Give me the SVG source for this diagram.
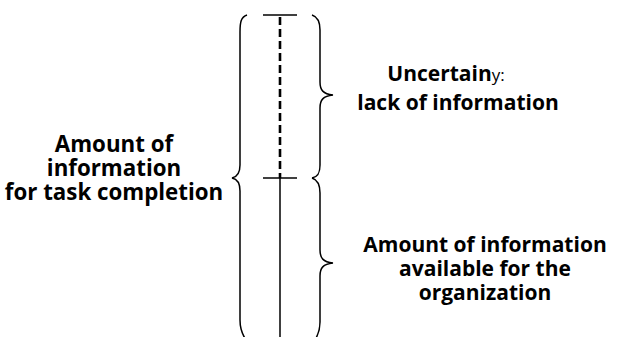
<svg xmlns="http://www.w3.org/2000/svg" width="620" height="337" viewBox="0 0 620 337">
<style>
.t{font-family:"Open Sans","Liberation Sans",sans-serif;font-weight:bold;font-size:21px;fill:#000;text-anchor:middle}
.l{font-size:22.3px}
.b{fill:none;stroke:#000;stroke-width:1.5}
</style>
<rect width="620" height="337" fill="#fff"/>
<g id="connectors">
<line x1="280" y1="17" x2="280" y2="178" stroke="#000" stroke-dasharray="8,4" stroke-width="2.6"/>
<line class="b" x1="280" y1="178" x2="280" y2="337"/>
<line class="b" x1="263" y1="15" x2="297" y2="15"/>
<line class="b" x1="263" y1="178" x2="297" y2="178"/>
</g>
<g id="brace-total">
<path class="b" d="M247,15 C241,17 240,22 240,32 L240,165 C240,173 237,177 232,178 C237,179 240,183 240,191 L240,320 C240,328 242,334 246,340"/>
</g>
<g id="brace-uncertainty">
<path class="b" d="M312,15 C318,17 320,22 320,30 L320,82 C320,90 323,94 333,95 C323,96 320,100 320,108 L320,165 C320,173 318,177 312,178"/>
</g>
<g id="brace-available">
<path class="b" d="M312,178 C318,180 320,185 320,193 L320,250 C320,258 323,262 333,263 C323,264 320,268 320,276 L320,322 C320,330 318,335 315,340"/>
</g>
<g id="label-total">
<text class="t l" x="114" y="152">Amount of</text>
<text class="t l" x="114" y="176">information</text>
<text class="t l" x="114" y="200">for task completion</text>
</g>
<g id="label-uncertainty">
<text class="t" x="446" y="81">Uncertain<tspan font-weight="normal" font-size="17">y:</tspan></text>
<text class="t" x="458" y="110">lack of information</text>
</g>
<g id="label-available">
<text class="t" x="485" y="252">Amount of information</text>
<text class="t" x="485" y="276">available for the</text>
<text class="t" x="485" y="300">organization</text>
</g>
</svg>
